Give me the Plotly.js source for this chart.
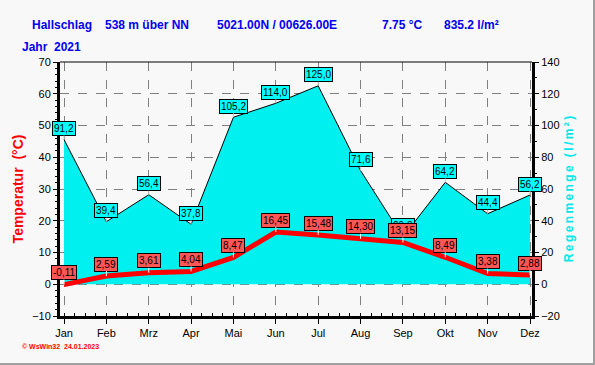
<!DOCTYPE html>
<html>
<head>
<meta charset="utf-8">
<script src="https://cdn.plot.ly/plotly-3.0.1.min.js"></script>
<style>
  html, body { margin: 0; padding: 0; background: #f8f8f8; }
  #chart { width: 595px; height: 365px; }
</style>
</head>
<body>
<div id="chart"></div>
<script>
const months = ['Jan','Feb','Mrz','Apr','Mai','Jun','Jul','Aug','Sep','Okt','Nov','Dez'];
const temp = [-0.11, 2.59, 3.61, 4.04, 8.47, 16.45, 15.48, 14.30, 13.15, 8.49, 3.38, 2.88];
const rain = [91.2, 39.4, 56.4, 37.8, 105.2, 114.0, 125.0, 71.6, 29.8, 64.2, 44.4, 56.2];
const headerTexts = ['Hallschlag', '538 m über NN', '5021.00N / 00626.00E', '7.75 °C', '835.2 l/m²'];
const yearText = 'Jahr  2021';
const footerText = '© WsWin32  24.01.2023';

const W = 595, H = 365;
const L = 60, R = 63, T = 62, B = 49;
const pw = W - L - R, ph = H - T - B;
const px = x => (x - L) / pw;
const py = y => (H - B - y) / ph;

const idx = months.map((m, i) => i);
const font = 'Liberation Sans, Arial, sans-serif';

const traces = [
  {
    x: idx, y: rain, yaxis: 'y', type: 'scatter', mode: 'lines',
    fill: 'tozeroy', fillcolor: '#00f0f0',
    line: { color: '#000000', width: 1 },
    hoverinfo: 'skip', showlegend: false
  },
  {
    x: idx, y: temp, yaxis: 'y2', type: 'scatter', mode: 'lines',
    line: { color: '#ff0000', width: 5 },
    hoverinfo: 'skip', showlegend: false
  }
];

const annotations = [];
const headerX = [30, 103, 215, 380, 442];
headerTexts.forEach((t, i) => annotations.push({
  xref: 'paper', yref: 'paper', x: px(headerX[i]), y: py(25),
  xanchor: 'left', yanchor: 'middle', showarrow: false, text: t,
  font: { family: font, size: 12, color: '#0000ee', weight: 'bold' }
}));
annotations.push({
  xref: 'paper', yref: 'paper', x: px(20), y: py(47),
  xanchor: 'left', yanchor: 'middle', showarrow: false, text: yearText,
  font: { family: font, size: 12, color: '#0000ee', weight: 'bold' }
});
annotations.push({
  xref: 'paper', yref: 'paper', x: px(20), y: py(346),
  xanchor: 'left', yanchor: 'middle', showarrow: false, text: footerText,
  font: { family: font, size: 7, color: '#ff0000', weight: 'bold' }
});
// rain labels
rain.forEach((v, i) => annotations.push({
  x: idx[i], y: v, xref: 'x', yref: 'y',
  text: v.toFixed(1).replace('.', ','),
  showarrow: true, arrowhead: 0, arrowwidth: 1, arrowcolor: '#c8c8c8',
  ax: 0, ay: -11, standoff: 0,
  bgcolor: '#00ffff', bordercolor: '#000000', borderwidth: 1, borderpad: 1,
  font: { family: font, size: 10, color: '#000000' }
}));
// temperature labels
temp.forEach((v, i) => annotations.push({
  x: idx[i], y: v, xref: 'x', yref: 'y2',
  text: v.toFixed(2).replace('.', ','),
  showarrow: true, arrowhead: 0, arrowwidth: 1, arrowcolor: '#ffffff',
  ax: 0, ay: -12, standoff: 0,
  bgcolor: '#ff5656', bordercolor: '#000000', borderwidth: 1, borderpad: 1,
  font: { family: font, size: 10, color: '#000000' }
}));

const shapes = [
  { type: 'line', xref: 'paper', yref: 'paper', x0: 0, x1: 1, y0: 1, y1: 1,
    line: { color: '#000000', width: 1 } },
  { type: 'line', xref: 'paper', yref: 'paper', x0: px(594), x1: px(594), y0: py(0), y1: py(365),
    line: { color: '#a0a0a0', width: 2 } },
  { type: 'line', xref: 'paper', yref: 'paper', x0: px(0), x1: px(595), y0: py(364), y1: py(364),
    line: { color: '#a0a0a0', width: 2 } }
];

const layout = {
  width: W, height: H,
  margin: { l: L, r: R, t: T, b: B, pad: 0 },
  paper_bgcolor: '#f8f8f8', plot_bgcolor: '#f8f8f8',
  showlegend: false,
  font: { family: font, size: 11, color: '#000000' },
  xaxis: {
    range: [-4 / 42.36, 11 + 2 / 42.36],
    tickmode: 'array', tickvals: idx, ticktext: months,
    ticks: 'outside', ticklen: 5, tickcolor: '#000000',
    showgrid: true, gridcolor: '#808080', griddash: 'dash', gridwidth: 1,
    showline: true, linecolor: '#000000', linewidth: 3,
    zeroline: false,
    minor: { dtick: 0.25, tick0: 0, ticks: 'inside', ticklen: 3, tickcolor: '#000000', showgrid: false },
    tickfont: { family: font, size: 11, color: '#000000' }
  },
  yaxis: {
    range: [-20, 140], dtick: 20, tick0: 0, side: 'right',
    ticks: 'outside', ticklen: 4, tickcolor: '#000000',
    showgrid: true, gridcolor: '#808080', griddash: 'dash', gridwidth: 1,
    zeroline: false,
    showline: true, linecolor: '#000000', linewidth: 3,
    minor: { dtick: 10, ticks: 'outside', ticklen: 2, tickcolor: '#000000', showgrid: false },
    tickfont: { family: font, size: 11, color: '#000000' },
    title: { text: 'R\u2009e\u2009g\u2009e\u2009n\u2009m\u2009e\u2009n\u2009g\u2009e\u2009 \u2009(\u2009l\u2009/\u2009m\u2009²\u2009)', standoff: 6,
      font: { family: font, size: 12, color: '#00e8e8', weight: 'bold' } }
  },
  yaxis2: {
    range: [-10, 70], dtick: 10, tick0: 0,
    overlaying: 'y', side: 'left',
    ticks: 'outside', ticklen: 4, tickcolor: '#000000',
    showgrid: false, zeroline: false,
    showline: true, linecolor: '#000000', linewidth: 3,
    minor: { dtick: 2, ticks: 'outside', ticklen: 2, tickcolor: '#000000', showgrid: false },
    tickfont: { family: font, size: 11, color: '#000000' },
    title: { text: 'Temperatur  (°C)', standoff: 6,
      font: { family: font, size: 14, color: '#ff0000', weight: 'bold' } }
  },
  annotations: annotations,
  shapes: shapes
};

Plotly.newPlot('chart', traces, layout, { staticPlot: true, displayModeBar: false });
</script>
</body>
</html>
